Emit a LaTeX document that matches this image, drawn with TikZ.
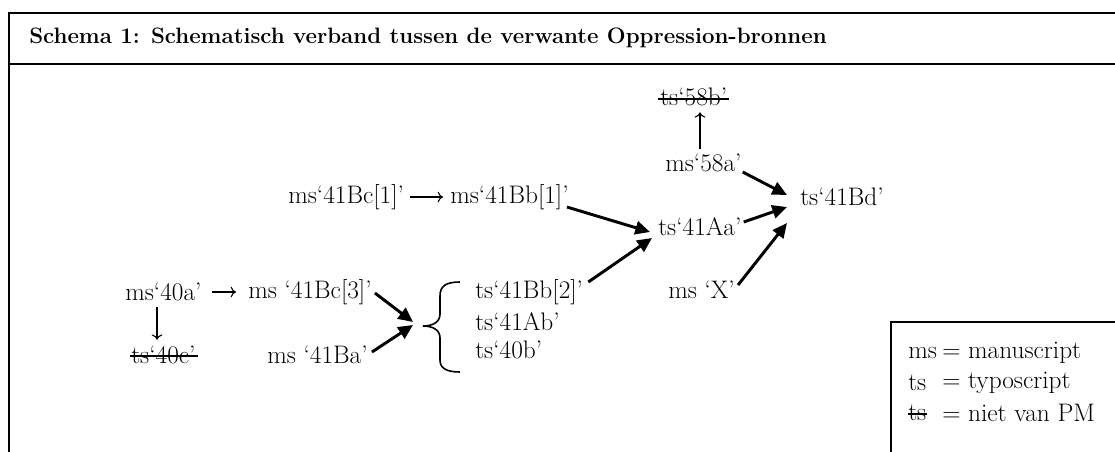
\documentclass[tikz,border=0pt]{standalone}
\usetikzlibrary{arrows.meta,calc}
\begin{document}
\begin{tikzpicture}[x=0.75pt,y=-0.75pt,
  txt/.style={anchor=west,inner sep=0pt,font=\fontsize{19}{22}\selectfont},
  ttl/.style={anchor=west,inner sep=0pt,font=\bfseries\fontsize{16.7}{20}\selectfont},
  big/.style={line width=2.2pt,-{Triangle[length=11pt,width=10pt]}},
  glyph/.style={line width=0.8pt,-{To[length=4pt,width=8pt]}},
  frame/.style={line width=1.5pt},
  strike/.style={line width=1.3pt}]
\useasboundingbox (0,0) rectangle (1115,451);
% frame
\draw[frame] (9,460) -- (9,13) -- (1125,13);
\draw[frame] (9,64) -- (1125,64);
\node[ttl] (title) at (29,38) {Schema 1: Schematisch verband tussen de verwante Oppression-bronnen};
% nodes
\node[txt] (t58b) at (660,97) {ts‘58b’};
\node[txt] (m58a) at (665,163) {ms‘58a’};
\node[txt] (t41Bd) at (800,197) {ts‘41Bd’};
\node[txt] (t41Aa) at (658,227) {ts‘41Aa’};
\node[txt] (mX) at (668,290) {ms ‘X’};
\node[txt] (m41Bc1) at (288,197) {ms‘41Bc[1]’};
\node[txt] (m41Bb1) at (450,197) {ms‘41Bb[1]’};
\node[txt] (m40a) at (125,292) {ms‘40a’};
\node[txt] (m41Bc3) at (248,292) {ms ‘41Bc[3]’};
\node[txt] (t40c) at (131,355) {ts‘40c’};
\node[txt] (m41Ba) at (267,355) {ms ‘41Ba’};
\node[txt] (t41Bb2) at (475,292) {ts‘41Bb[2]’};
\node[txt] (t41Ab) at (475,322) {ts‘41Ab’};
\node[txt] (t40b) at (475,350) {ts‘40b’};
% strikes
\draw[strike] ($(t58b.west)+(-2,2)$) -- ($(t58b.east)+(2,2)$);
\draw[strike] ($(t40c.west)+(-1,1)$) -- ($(t40c.east)+(2,1)$);
% brace
\coordinate (brtip) at (423,326);
\draw[line width=1.2pt] (460,282) .. controls (446,282) and (440,286) .. (440,296) -- (440,314)
  .. controls (440,322) and (433,326) .. (brtip)
  .. controls (433,326) and (440,330) .. (440,338) -- (440,360)
  .. controls (440,368) and (446,372) .. (460,372);
% glyph arrows
\draw[glyph] ($(m41Bc1.east)+(6,0)$) -- ($(m41Bb1.west)+(-7,0)$);
\draw[glyph] ($(m40a.east)+(10,0)$) -- ($(m41Bc3.west)+(-12,0)$);
\draw[glyph] ($(m40a.south west)+(32,6)$) -- ($(t40c.north west)+(26,-6)$);
\draw[glyph] ($(m58a.north west)+(35,-5)$) -- ($(t58b.south west)+(40,6)$);
% thick arrows
\draw[big] ($(m58a.east)+(1,9)$) -- ($(t41Bd.west)+(-13,-2)$);
\draw[big] ($(t41Aa.east)+(2,-5)$) -- ($(t41Bd.west)+(-13,10)$);
\draw[big] ($(mX.east)+(3,-5)$) -- ($(t41Bd.west)+(-13,26)$);
\draw[big] ($(m41Bb1.east)+(-2,10)$) -- ($(t41Aa.west)+(-8,5)$);
\draw[big] ($(t41Bb2.east)+(5,-10)$) -- ($(t41Aa.west)+(-6,11)$);
\draw[big] ($(m41Bc3.east)+(3,1)$) -- ($(brtip)+(-10,-4)$);
\draw[big] ($(m41Ba.east)+(4,-3)$) -- ($(brtip)+(-10,-1)$);
% legend
\draw[frame] (891,460) -- (891,322) -- (1125,322);
\node[txt] (l1a) at (908,353) {ms};
\node[txt] (l1b) at (942,353) {= manuscript};
\node[txt] (l2a) at (908,383) {ts};
\node[txt] (l2b) at (942,383) {= typoscript};
\node[txt] (l3a) at (908,413) {ts};
\node[txt] (l3b) at (942,413) {= niet van PM};
\draw[strike] ($(l3a.west)+(0,1)$) -- ($(l3a.east)+(0,1)$);
\end{tikzpicture}
\end{document}
